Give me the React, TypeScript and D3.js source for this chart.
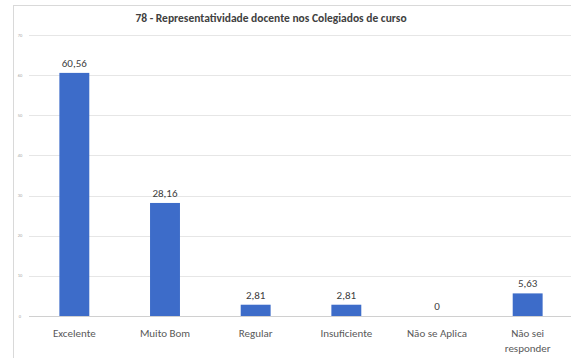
import React from "react";
import * as d3 from "d3";

const categories: string[][] = [
  ["Excelente"],
  ["Muito Bom"],
  ["Regular"],
  ["Insuficiente"],
  ["Não se Aplica"],
  ["Não sei", "responder"],
];
const values: number[] = [60.56, 28.16, 2.81, 2.81, 0, 5.63];
const yTicks: number[] = [0, 10, 20, 30, 40, 50, 60, 70];
const title = "78 - Representatividade docente nos Colegiados de curso";

const W = 571;
const H = 358;
const plotLeft = 29;
const plotRight = 573;
const plotTop = 35;
const plotBottom = 316;

export default function App() {
  const x = d3
    .scaleBand<number>()
    .domain(values.map((_, i) => i))
    .range([plotLeft, plotRight])
    .paddingInner(0.67)
    .paddingOuter(0.335);
  const y = d3.scaleLinear().domain([0, 70]).range([plotBottom, plotTop]);
  const fmt = (v: number) => (v === 0 ? "0" : d3.format(".2f")(v).replace(".", ","));
  const font = "Calibri, Carlito, Lato, 'Liberation Sans', 'DejaVu Sans', sans-serif";

  return (
    <svg
      width={W}
      height={H}
      style={{ position: "absolute", left: 0, top: 0, background: "#fff" }}
      fontFamily={font}
    >
      <rect x={0} y={0} width={W} height={H} fill="#fff" />
      <rect x={13.5} y={5.5} width={W} height={H} fill="none" stroke="#d9d9d9" strokeWidth={1} />
      <text x={271} y={22} textAnchor="middle" fontSize={11.5} fontWeight="bold" fill="#404040">
        {title}
      </text>
      {yTicks.map((t) => (
        <g key={t}>
          <line
            x1={plotLeft}
            x2={W}
            y1={Math.round(y(t)) + 0.5}
            y2={Math.round(y(t)) + 0.5}
            stroke={t === 0 ? "#d0d0d0" : "#e6e6e6"}
            strokeWidth={1}
          />
          <text x={20} y={y(t) + 1.5} textAnchor="middle" fontSize={4.5} fill="#a6a6a6">
            {t}
          </text>
        </g>
      ))}
      {values.map((v, i) => (
        <g key={i}>
          <rect
            x={x(i)!}
            y={y(v)}
            width={x.bandwidth()}
            height={plotBottom - y(v)}
            fill="#3d6cc9"
          />
          <text
            x={x(i)! + x.bandwidth() / 2}
            y={y(v) - 6}
            textAnchor="middle"
            fontSize={11}
            fill="#404040"
          >
            {fmt(v)}
          </text>
          {categories[i].map((line, j) => (
            <text
              key={j}
              x={x(i)! + x.bandwidth() / 2}
              y={337 + j * 15}
              textAnchor="middle"
              fontSize={11}
              fill="#595959"
            >
              {line}
            </text>
          ))}
        </g>
      ))}
    </svg>
  );
}
